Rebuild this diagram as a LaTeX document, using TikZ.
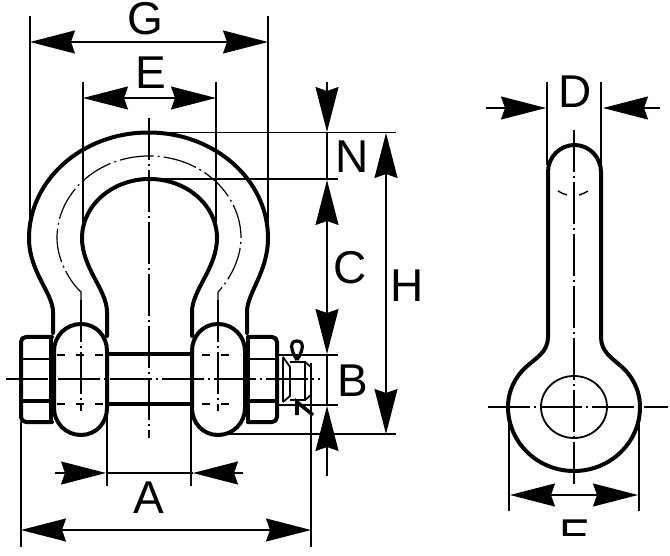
\documentclass[tikz,border=0pt]{standalone}
\usepackage{fontspec}
\setmainfont{Liberation Sans}
\usetikzlibrary{arrows.meta}
\tikzset{
  thick line/.style={line width=4pt,line join=round,line cap=round},
  thin line/.style={line width=1.5pt},
  mid line/.style={line width=1.8pt},
  center line/.style={line width=1.4pt,dash pattern=on 42pt off 4pt on 2pt off 4pt},
  dash line/.style={line width=1.3pt,dash pattern=on 8pt off 11pt},
  head/.style={Stealth[length=45pt,width=23pt,inset=4pt]},
  dim/.style={line width=1.5pt,-{Stealth[length=45pt,width=23pt,inset=4pt]}},
  dimboth/.style={line width=1.5pt,{Stealth[length=45pt,width=23pt,inset=4pt]}-{Stealth[length=45pt,width=23pt,inset=4pt]}},
  letter/.style={anchor=base,inner sep=0pt,font=\fontsize{46}{46}\selectfont}
}
\begin{document}
\begin{tikzpicture}[x=1pt,y=-1pt]
\useasboundingbox (0,0) rectangle (670,556);
% centre lines, front view
\draw[center line] (149,118) -- (149,438);
\draw[center line] (6,379) -- (320,379);
\draw[center line] (81,300) -- (81,411);
\draw[center line] (218,300) -- (218,411);
\draw[line width=1.2pt,dash pattern=on 34pt off 4pt on 2pt off 4pt]
  (81,300) -- (81,292) .. controls (72,284) and (57,262) .. (57,238)
  arc[start angle=180,end angle=360,x radius=92,y radius=82]
  .. controls (241,262) and (226,284) .. (218,292) -- (218,300);
% dashed pin edges inside the eyes
\draw[dash line] (57,355) -- (107,355);
\draw[dash line] (57,404) -- (107,404);
\draw[dash line] (202,355) -- (240,355);
\draw[dash line] (202,404) -- (240,404);
% shackle bow
\draw[thick line] (53,333) -- (53,312) .. controls (53,293) and (29,272) .. (29,238)
  arc[start angle=180,end angle=360,x radius=119.5,y radius=105.5]
  .. controls (268,272) and (247,293) .. (247,312) -- (247,333);
\draw[thick line] (107,336) -- (107,312) .. controls (107,290) and (82,268) .. (82,238)
  arc[start angle=180,end angle=360,x radius=67.5,y radius=59]
  .. controls (217,268) and (192,290) .. (192,312) -- (192,336);
% eyes
\draw[thick line] (54,408) -- (54,351) .. controls (54,336) and (66,324) .. (81,324)
  .. controls (96,324) and (107,336) .. (107,351) -- (107,408)
  .. controls (107,423) and (96,435) .. (81,435) .. controls (66,435) and (54,423) .. (54,408) -- cycle;
\draw[thick line] (192,408) -- (192,351) .. controls (192,336) and (203,324) .. (218,324)
  .. controls (233,324) and (245,336) .. (245,351) -- (245,408)
  .. controls (245,423) and (233,435) .. (218,435) .. controls (203,435) and (192,423) .. (192,408) -- cycle;
% pin
\draw[thick line] (107,354) -- (192,354);
\draw[thick line] (107,404) -- (192,404);
% nuts
\draw[thick line] (52,337) -- (26,337) .. controls (23,337) and (21,339) .. (21,342) -- (21,417)
  .. controls (21,420) and (23,422) .. (26,422) -- (52,422);
\draw[thick line] (51,337) -- (51,422);
\draw[line width=2.2pt] (21,359) -- (52,359);
\draw[line width=3.2pt] (21,401) -- (52,401);
\draw[thick line] (248,337) -- (272,337) .. controls (275,337) and (277,339) .. (277,342) -- (277,417)
  .. controls (277,420) and (275,422) .. (272,422) -- (248,422);
\draw[thick line] (248,337) -- (248,422);
\draw[line width=2.2pt] (248,359) -- (277,359);
\draw[line width=3.2pt] (248,401) -- (277,401);
% threaded end
\draw[mid line] (283,357) -- (283,402);
\draw[mid line] (283,357) -- (290,367) -- (290,396) -- (283,402);
\draw[mid line] (290,362) -- (305,362) -- (311,367) -- (311,395) -- (305,400) -- (290,400);
\draw[mid line] (305,362) -- (305,400);
% cotter pin
\draw[line width=3.2pt] (297,360) .. controls (291,351) and (289,341) .. (297,341)
  .. controls (305,341) and (303,351) .. (297,360);
\draw[line width=3.6pt] (297,415) -- (297,402) -- (313,415);
% extension lines, front view
\draw[thin line] (30,16) -- (30,225);
\draw[thin line] (268,16) -- (268,225);
\draw[thin line] (83,82) -- (83,222);
\draw[thin line] (216,82) -- (216,222);
\draw[thin line] (149,132.5) -- (396,132.5);
\draw[thin line] (149,179) -- (338,179);
\draw[thin line] (218,434) -- (396,434);
\draw[thin line] (278,355) -- (338,355);
\draw[thin line] (278,405) -- (338,405);
\draw[thin line] (107,404) -- (107,486);
\draw[thin line] (191,404) -- (191,486);
\draw[thin line] (21,422) -- (21,547);
\draw[thin line] (311,363) -- (311,547);
% dimensions, front view
\draw[dimboth] (30,42) -- (268,42);
\draw[dimboth] (83,98) -- (216,98);
\draw[dim] (327,82) -- (327,132);
\draw[thin line] (327,132) -- (327,180);
\draw[dimboth] (327,180) -- (327,354);
\draw[thin line] (327,354) -- (327,406);
\draw[dim] (327,476) -- (327,406);
\draw[dimboth] (386,133) -- (386,434);
\draw[dim] (55,473) -- (106,473);
\draw[thin line] (106,473) -- (193,473);
\draw[dim] (243,473) -- (193,473);
\draw[dimboth] (21,530) -- (311,530);
% labels, front view
\node[letter] (lG) at (145,35) {G};
\node[letter] (lE) at (151,89) {E};
\node[letter] (lN) at (352.5,173) {N};
\node[letter] (lC) at (350,284) {C};
\node[letter] (lH) at (407,302) {H};
\node[letter] (lB) at (353,396) {B};
\node[letter] (lA) at (149,513) {A};
% side view
\draw[center line] (574,130) -- (574,486);
\draw[center line] (488,407) -- (668,407);
\draw[thick line] (548,337) -- (548,172)
  arc[start angle=180,end angle=360,x radius=26.5,y radius=27]
  -- (601,337) .. controls (601,352) and (612,358) .. (622,367)
  .. controls (632,376) and (640,390) .. (640,407)
  arc[start angle=0,end angle=180,x radius=66,y radius=64]
  .. controls (508,390) and (516,376) .. (526,367)
  .. controls (536,358) and (548,352) .. (548,337);
\draw[line width=1.8pt] (574,407) ellipse[x radius=33,y radius=31];
\draw[line width=1.4pt] (558,191) .. controls (561,193) and (564,194) .. (567,195);
\draw[line width=1.4pt] (579,195) .. controls (582,194) and (585,193) .. (588,191);
\draw[thin line] (547,82) -- (547,165);
\draw[thin line] (601,82) -- (601,165);
\draw[thin line] (509,420) -- (509,511);
\draw[thin line] (639,420) -- (639,511);
\draw[dim] (486,108) -- (546,108);
\draw[dim] (660,108) -- (603,108);
\draw[dimboth] (510,495) -- (638,495);
\node[letter] (lD) at (575,108) {D};
\begin{scope}
  \clip (540,500) rectangle (610,535);
  \node[letter] (lF) at (575,551) {E};
\end{scope}
\end{tikzpicture}
\end{document}
